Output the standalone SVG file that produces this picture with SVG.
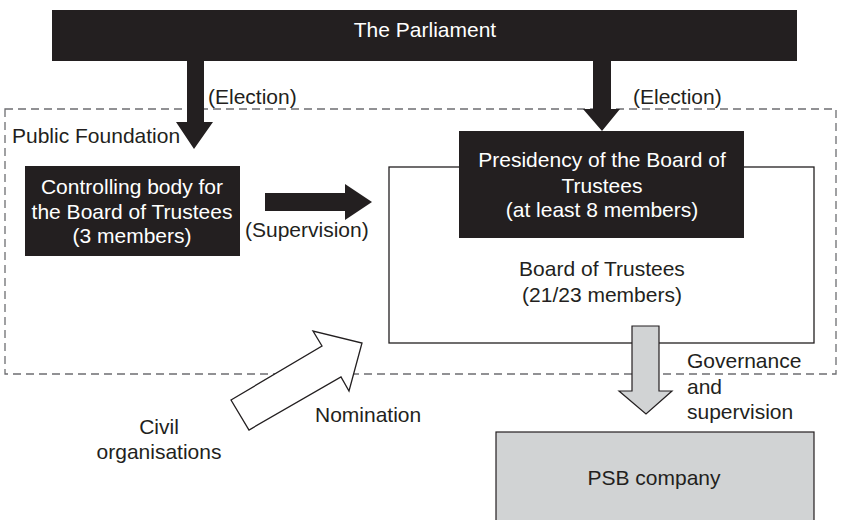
<svg xmlns="http://www.w3.org/2000/svg" width="842" height="520" viewBox="0 0 842 520">
<style>
text{font-family:"Liberation Sans",Arial,sans-serif;font-size:21px;fill:#231f20}
.w{fill:#fff}
.m{text-anchor:middle}
.dark{fill:#231f20}
.outline{fill:#fff;stroke:#231f20;stroke-width:1.3}
.grey{fill:#d1d3d4;stroke:#231f20;stroke-width:1.2}
.dash{fill:none;stroke:#6d6e71;stroke-width:1.3;stroke-dasharray:8 5}
</style>
<rect width="842" height="520" fill="#fff"/>
<g id="foundation">
<rect class="dash" x="5" y="109" width="831" height="265"/>
<text x="12" y="143">Public Foundation</text>
</g>
<g id="board">
<rect class="outline" x="389" y="167" width="425" height="176"/>
<text class="m" x="602" y="276">Board of Trustees</text>
<text class="m" x="602" y="302">(21/23 members)</text>
</g>
<g id="parliament">
<rect class="dark" x="52" y="10" width="745" height="51"/>
<text class="w m" x="425" y="37">The Parliament</text>
</g>
<g id="controlling">
<rect class="dark" x="25" y="166" width="215" height="90"/>
<text class="w m" x="132" y="194">Controlling body for</text>
<text class="w m" x="132" y="219">the Board of Trustees</text>
<text class="w m" x="132" y="243">(3 members)</text>
</g>
<g id="presidency">
<rect class="dark" x="459" y="131" width="285" height="107"/>
<text class="w m" x="602" y="167">Presidency of the Board of</text>
<text class="w m" x="602" y="193">Trustees</text>
<text class="w m" x="602" y="217">(at least 8 members)</text>
</g>
<g id="psb">
<rect class="grey" x="496" y="432" width="318" height="100"/>
<text class="m" x="654" y="485">PSB company</text>
</g>
<g id="civil">
<text class="m" x="159" y="434">Civil</text>
<text class="m" x="159" y="459">organisations</text>
</g>
<g id="connectors">
<polygon class="dark" points="187,60 204,60 204,122 213,122 194,149 176,122 187,122"/>
<text x="208" y="104">(Election)</text>
<polygon class="dark" points="593,60 611,60 611,109 620,109 602,131 583,109 593,109"/>
<text x="633" y="104">(Election)</text>
<polygon class="dark" points="265,193 345,193 345,184 372,202 345,220 345,211 265,211"/>
<text x="245" y="237">(Supervision)</text>
<polygon class="outline" points="231,400 322,346 313,331 362,343 349,391 341,377 249,430"/>
<text x="315" y="422">Nomination</text>
<polygon class="grey" points="632,326 659,326 659,391 672,391 646,414 619,391 632,391"/>
<text x="687" y="368">Governance</text>
<text x="687" y="394">and</text>
<text x="687" y="419">supervision</text>
</g>
</svg>
